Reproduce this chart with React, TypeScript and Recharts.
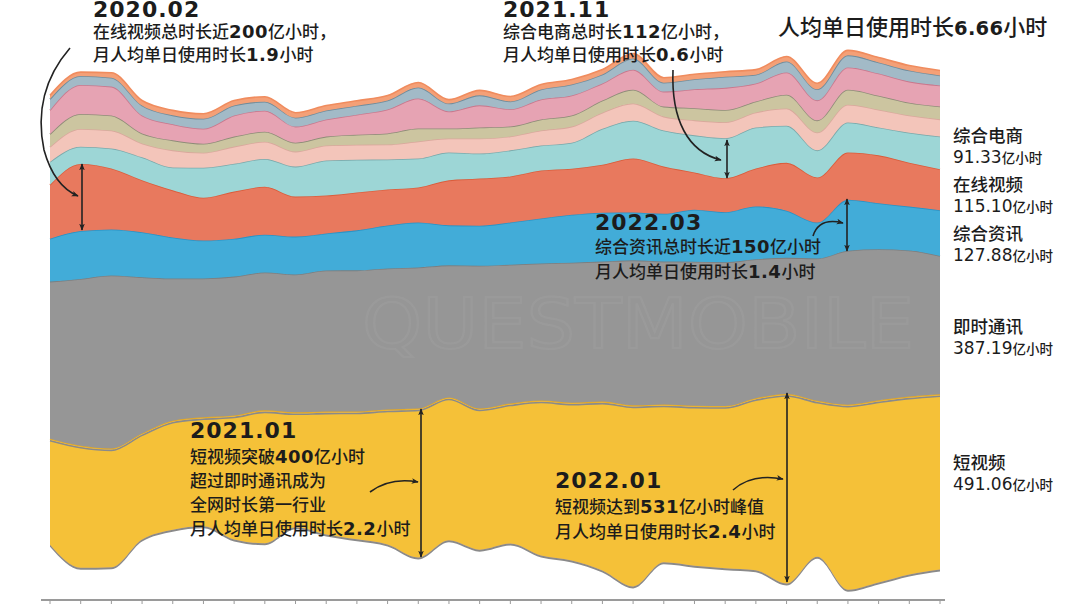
import React from 'react';
import { AreaChart, Area, XAxis, YAxis } from 'recharts';

const months = [
  '2020.01','2020.02','2020.03','2020.04','2020.05','2020.06','2020.07','2020.08','2020.09','2020.10','2020.11','2020.12',
  '2021.01','2021.02','2021.03','2021.04','2021.05','2021.06','2021.07','2021.08','2021.09','2021.10','2021.11','2021.12',
  '2022.01','2022.02','2022.03','2022.04','2022.05','2022.06',
];

// 亿小时
const shortVideo = [297,342,333,297,305,305,347,372,322,344,358,378,417,400,395,392,434,442,473,507,442,448,454,482,531,437,518,510,498,491.06];
const instantMsg = [440,467,484,437,398,389,389,386,386,395,395,395,395,370,400,389,384,392,392,406,400,403,403,389,381,398,431,423,409,387.19];
const news = [120,134,129,126,115,106,106,106,106,104,112,120,126,112,112,118,126,134,137,134,134,146,140,148,132,101,143,129,123,127.88];
const onlineVideo = [151,188,171,146,132,120,132,134,112,106,106,101,98,126,132,129,134,129,134,151,132,104,95,106,134,126,132,134,123,115.10];
const ecommerce = [64,48,56,64,64,84,78,78,84,98,92,84,81,78,70,73,70,73,101,106,101,104,112,115,104,76,84,78,84,91.33];
const other1 = [42,50,50,39,48,42,48,48,42,42,42,42,48,39,42,39,42,45,45,48,39,42,45,42,48,50,50,50,48,48];
const other2 = [36,42,42,28,28,25,28,28,25,25,28,31,36,28,31,28,31,31,34,39,28,34,34,31,39,34,42,39,36,36];
const other3 = [67,81,81,50,45,42,59,59,45,48,56,67,84,48,62,48,56,56,48,56,42,53,62,50,62,56,62,62,59,59];
const other4 = [31,25,25,28,25,28,28,25,25,25,25,25,31,22,28,22,28,31,25,31,25,28,31,25,31,31,34,31,31,28];
const other5 = [11,11,14,14,14,14,14,14,14,14,14,14,14,11,14,14,14,14,14,14,14,14,14,14,14,17,14,14,14,14];

const data = months.map((m, i) => ({
  month: m,
  shortVideo: shortVideo[i],
  instantMsg: instantMsg[i],
  news: news[i],
  onlineVideo: onlineVideo[i],
  ecommerce: ecommerce[i],
  other1: other1[i],
  other2: other2[i],
  other3: other3[i],
  other4: other4[i],
  other5: other5[i],
}));

const series = [
  { key: 'shortVideo', fill: '#F5C137', stroke: '#E3A826', shadow: true },
  { key: 'instantMsg', fill: '#969696', stroke: '#7E7E7E' },
  { key: 'news', fill: '#42ACD8', stroke: '#2A93C6' },
  { key: 'onlineVideo', fill: '#E8795E', stroke: '#DA5D3C' },
  { key: 'ecommerce', fill: '#9DD6D6', stroke: '#7AA9AB' },
  { key: 'other1', fill: '#F3C5BA', stroke: '#D9A89C' },
  { key: 'other2', fill: '#CCC5A0', stroke: '#8F8C78' },
  { key: 'other3', fill: '#E6A3B3', stroke: '#C9788D' },
  { key: 'other4', fill: '#A2BAC7', stroke: '#6F8C9C' },
  { key: 'other5', fill: '#F4A077', stroke: '#F08C5E' },
];

const CJK = '"Noto Sans CJK SC", "Noto Sans", sans-serif';
const DIGF = '"DejaVu Sans", sans-serif';
const INK = '#1c1c1c';

function Mixed({ x, y, text, cjk = 17, dig = 18, digWeight = 700, cjkWeight = 500, ls = 0.5 }: any) {
  const parts = text.split(/([0-9.]+)/).filter((p: string) => p.length > 0);
  return (
    <text x={x} y={y} fill={INK}>
      {parts.map((p: string, i: number) =>
        /^[0-9.]+$/.test(p) ? (
          <tspan key={i} fontFamily={DIGF} fontWeight={digWeight} fontSize={dig} letterSpacing={ls}>{p}</tspan>
        ) : (
          <tspan key={i} fontFamily={CJK} fontWeight={cjkWeight} fontSize={cjk}>{p}</tspan>
        )
      )}
    </text>
  );
}

function Heading({ x, y, text }: any) {
  return (
    <text x={x} y={y} fill={INK} fontFamily={DIGF} fontWeight={700} fontSize={22} letterSpacing={1}>{text}</text>
  );
}

function SideLabel({ x, y, name, value }: any) {
  return (
    <g>
      <text x={x} y={y} fill={INK} fontFamily={CJK} fontSize={17.5} fontWeight={500}>{name}</text>
      <text x={x} y={y + 21} fill={INK}>
        <tspan fontFamily={DIGF} fontSize={17}>{value}</tspan>
        <tspan fontFamily={CJK} fontSize={13.5} fontWeight={500}>亿小时</tspan>
      </text>
    </g>
  );
}

const arrowStyle = { stroke: '#222', strokeWidth: 1.6, fill: 'none' };

export default function App() {
  return (
    <div style={{ position: 'absolute', left: 0, top: 0, width: 1076, height: 604, background: '#fff', overflow: 'hidden' }}>
      <svg width={1076} height={604} style={{ position: 'absolute', left: 0, top: 0 }}>
        <defs>
          <filter id="ySh" x="-5%" y="-5%" width="110%" height="120%">
            <feDropShadow dx="0" dy="2" stdDeviation="0.4" floodColor="#8a8a8a" floodOpacity="1" />
          </filter>
        </defs>
      </svg>
      <div style={{ position: 'absolute', left: 0, top: 0 }}>
        <AreaChart
          width={1076}
          height={604}
          data={data}
          stackOffset="silhouette"
          margin={{ top: 40, right: 136, bottom: 0, left: 50 }}
        >
          <XAxis
            dataKey="month"
            height={4}
            tickSize={4}
            interval={0}
            axisLine={false}
            tickLine={{ stroke: '#9a9a9a', strokeWidth: 1 }}
            tickFormatter={() => ''}
          />
          <YAxis hide type="number" domain={[-784, 784]} allowDataOverflow />
          {series.map((s) => (
            <Area
              key={s.key}
              type="monotone"
              dataKey={s.key}
              stackId="1"
              fill={s.fill}
              fillOpacity={1}
              stroke={s.stroke}
              strokeWidth={1.6}
              isAnimationActive={false}
              dot={false}
              activeDot={false}
              filter={s.shadow ? 'url(#ySh)' : undefined}
            />
          ))}
        </AreaChart>
      </div>
      <svg width={1076} height={604} style={{ position: 'absolute', left: 0, top: 0, pointerEvents: 'none' }}>
        <defs>
          <marker id="ah" viewBox="0 0 10 10" refX="9" refY="5" markerWidth="7" markerHeight="7" orient="auto-start-reverse" markerUnits="userSpaceOnUse">
            <path d="M0,1 L10,5 L0,9 L2.5,5 z" fill="#222" />
          </marker>
        </defs>

        {/* watermark */}
        <text x={362} y={348} fontFamily={DIGF} fontSize={70} fill="none" stroke="#a4a4a4" strokeWidth={2} opacity={0.35} textLength={552} lengthAdjust="spacingAndGlyphs">QUESTMOBILE</text>

        {/* x axis line */}
        <line x1={41} x2={945} y1={600} y2={600} stroke="#9a9a9a" strokeWidth={2} />

        {/* title */}
        <Mixed x={778} y={35} text="人均单日使用时长6.66小时" cjk={22} dig={19.5} ls={0.3} />

        {/* 2020.02 */}
        <Heading x={93} y={17} text="2020.02" />
        <Mixed x={93} y={38} text="在线视频总时长近200亿小时，" />
        <Mixed x={93} y={61} text="月人均单日使用时长1.9小时" />
        <path d="M 70 48 Q 32 92 44 150 Q 54 186 78 196" style={arrowStyle} markerEnd="url(#ah)" />
        <line x1={82} x2={82} y1={164} y2={230} style={arrowStyle} markerStart="url(#ah)" markerEnd="url(#ah)" />

        {/* 2021.11 */}
        <Heading x={503} y={17} text="2021.11" />
        <Mixed x={503} y={38} text="综合电商总时长112亿小时，" />
        <Mixed x={503} y={61} text="月人均单日使用时长0.6小时" />
        <path d="M 673 70 C 671 120 688 152 721 160" style={arrowStyle} markerEnd="url(#ah)" />
        <line x1={727} x2={727} y1={140} y2={178} style={arrowStyle} markerStart="url(#ah)" markerEnd="url(#ah)" />

        {/* 2021.01 */}
        <Heading x={190} y={438} text="2021.01" />
        <Mixed x={190} y={463} text="短视频突破400亿小时" />
        <Mixed x={190} y={487} text="超过即时通讯成为" />
        <Mixed x={190} y={511} text="全网时长第一行业" />
        <Mixed x={190} y={535} text="月人均单日使用时长2.2小时" />
        <path d="M 370 492 Q 390 477 418 482" style={arrowStyle} markerEnd="url(#ah)" />
        <line x1={421} x2={421} y1={409} y2={557} style={arrowStyle} markerStart="url(#ah)" markerEnd="url(#ah)" />

        {/* 2022.01 */}
        <Heading x={555} y={488} text="2022.01" />
        <Mixed x={555} y={513} text="短视频达到531亿小时峰值" />
        <Mixed x={555} y={538} text="月人均单日使用时长2.4小时" />
        <path d="M 733 490 Q 752 473 783 479" style={arrowStyle} markerEnd="url(#ah)" />
        <line x1={787} x2={787} y1={393} y2={582} style={arrowStyle} markerStart="url(#ah)" markerEnd="url(#ah)" />

        {/* 2022.03 */}
        <Heading x={595} y={230} text="2022.03" />
        <Mixed x={595} y={253} text="综合资讯总时长近150亿小时" />
        <Mixed x={595} y={278} text="月人均单日使用时长1.4小时" />
        <path d="M 813 236 Q 819 217 843 223" style={arrowStyle} markerEnd="url(#ah)" />
        <line x1={847} x2={847} y1={199} y2={251} style={arrowStyle} markerStart="url(#ah)" markerEnd="url(#ah)" />

        {/* side labels */}
        <SideLabel x={953} y={142} name="综合电商" value="91.33" />
        <SideLabel x={953} y={191} name="在线视频" value="115.10" />
        <SideLabel x={953} y={240} name="综合资讯" value="127.88" />
        <SideLabel x={953} y={333} name="即时通讯" value="387.19" />
        <SideLabel x={953} y={469} name="短视频" value="491.06" />
      </svg>
    </div>
  );
}
